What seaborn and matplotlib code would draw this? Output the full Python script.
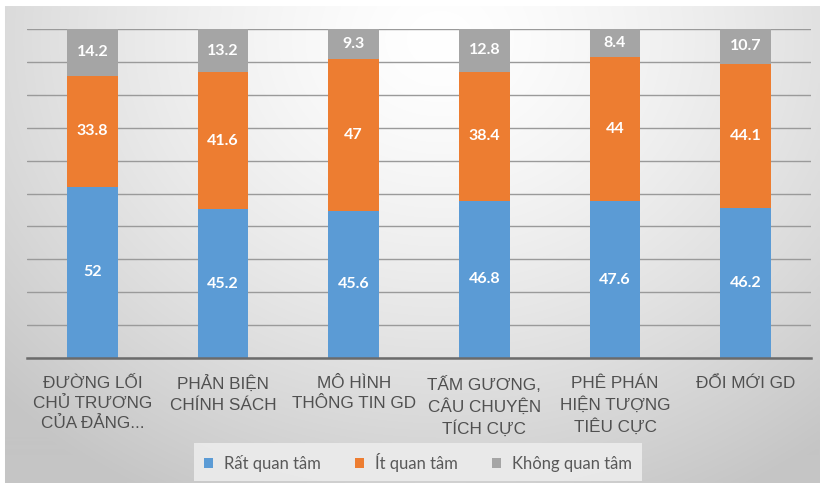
import numpy as np
import pandas as pd
import matplotlib
matplotlib.use("Agg")
import matplotlib.pyplot as plt
from matplotlib.patches import Patch
import seaborn as sns

# Survey results: level of interest by news topic (%)
categories = [
    "ĐƯỜNG LỐI\nCHỦ TRƯƠNG\nCỦA ĐẢNG...",
    "PHẢN BIỆN\nCHÍNH SÁCH",
    "MÔ HÌNH\nTHÔNG TIN GD",
    "TẤM GƯƠNG,\nCÂU CHUYỆN\nTÍCH CỰC",
    "PHÊ PHÁN\nHIỆN TƯỢNG\nTIÊU CỰC",
    "ĐỔI MỚI GD",
]
rat_quan_tam = [52, 45.2, 45.6, 46.8, 47.6, 46.2]
it_quan_tam = [33.8, 41.6, 47, 38.4, 44, 44.1]
khong_quan_tam = [14.2, 13.2, 9.3, 12.8, 8.4, 10.7]
series_names = ["Rất quan tâm", "Ít quan tâm", "Không quan tâm"]
colors = ["#5B9BD5", "#ED7D31", "#A5A5A5"]

sns.set_theme(style="white")
plt.rcParams["font.family"] = ["Liberation Sans", "DejaVu Sans"]

vals = np.array([rat_quan_tam, it_quan_tam, khong_quan_tam], dtype=float)
# 100% stacked: each column scaled to its own total
shares = vals / vals.sum(axis=0) * 100
tops = np.cumsum(shares, axis=0)

df = pd.DataFrame({
    "cat": categories,
    "top1": tops[0],
    "top2": tops[1],
    "top3": tops[2],
})

W, H = 823, 486
fig = plt.figure(figsize=(W / 100, H / 100), dpi=100)

# soft radial backdrop panel
bg = fig.add_axes([0, 0, 1, 1], zorder=-10)
yy, xx = np.mgrid[0:H, 0:W]
r = np.sqrt(((xx - 440) / 460.0) ** 2 + ((yy - 40) / 390.0) ** 2)
drop = np.minimum(39 * r ** 1.4, 58)
img = 255 - drop
inside = (xx >= 5) & (xx <= 819) & (yy >= 7) & (yy <= 482)
img = np.where(inside, img, 255) / 255.0
bg.imshow(np.dstack([img, img, img]), extent=[0, W, H, 0], aspect="auto",
          interpolation="bilinear")
bg.set_axis_off()

ax = fig.add_axes([27 / W, 1 - 358 / H, (811 - 27) / W, (358 - 29) / H])
ax.set_facecolor("none")

bw = 0.39
for col, c in zip(["top3", "top2", "top1"], colors[::-1]):
    sns.barplot(data=df, x="cat", y=col, color=c, width=bw, saturation=1,
                errorbar=None, linewidth=0, ax=ax)

# value labels centred in each segment
for i in range(len(categories)):
    for k in range(3):
        y = tops[k, i] - shares[k, i] / 2
        ax.text(i, y, f"{vals[k, i]:g}", ha="center", va="center",
                color="white", fontsize=11.5, fontweight="bold", family="Lato")

ax.set_xlim(-0.5, len(categories) - 0.5)
ax.set_ylim(0, 100)
ax.set_yticks(np.arange(0, 101, 10))
ax.yaxis.grid(True, color="#9a9a9a", linewidth=1.0)
ax.set_axisbelow(True)
ax.set_yticklabels([])
ax.set_xlabel("")
ax.set_ylabel("")
ax.set_xticks(range(len(categories)))
ax.set_xticklabels(categories, fontsize=12.3, color="#505050", va="top",
                   linespacing=1.4)
ax.tick_params(axis="both", length=0)
ax.tick_params(axis="x", pad=13)
for s in ["top", "left", "right"]:
    ax.spines[s].set_visible(False)
ax.spines["bottom"].set_color("#6b6b6b")
ax.spines["bottom"].set_linewidth(1.8)

handles = [Patch(facecolor=c, edgecolor="none") for c in colors]
leg = fig.legend(handles, series_names, loc="center", ncol=3,
                 bbox_to_anchor=(418 / W, 1 - 462 / H),
                 frameon=True, fancybox=False, facecolor="#ececec",
                 edgecolor="none", framealpha=0.9,
                 handlelength=0.55, handleheight=0.55, handletextpad=0.7,
                 columnspacing=2.0, borderpad=0.55,
                 prop={"family": "Lato", "size": 12})
for t in leg.get_texts():
    t.set_color("#595959")

fig.savefig("out.png", dpi=100)
